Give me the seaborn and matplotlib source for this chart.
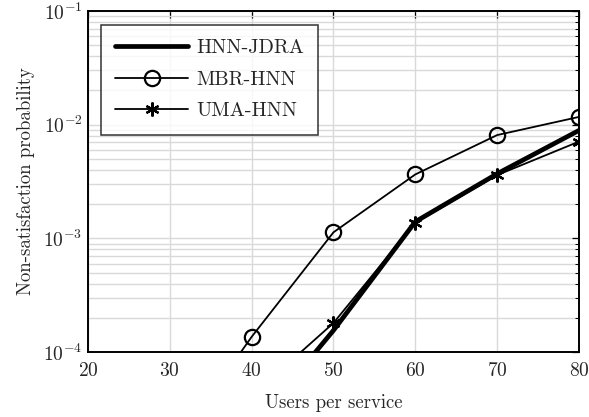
import numpy as np
import pandas as pd
import matplotlib
matplotlib.use("Agg")
import matplotlib.pyplot as plt
import seaborn as sns

users = [20, 30, 40, 50, 60, 70, 80]
hnn_jdra = [4.0e-7, 3.0e-6, 2.1e-5, 1.55e-4, 1.40e-3, 3.70e-3, 8.9e-3]
mbr_hnn = [5.0e-7, 1.3e-5, 1.36e-4, 1.13e-3, 3.65e-3, 8.1e-3, 1.17e-2]
uma_hnn = [6.0e-7, 5.0e-6, 4.1e-5, 1.80e-4, 1.37e-3, 3.60e-3, 7.1e-3]

series = {"HNN-JDRA": hnn_jdra, "MBR-HNN": mbr_hnn, "UMA-HNN": uma_hnn}
df = pd.concat(
    [pd.DataFrame({"users": users, "p": v, "scheme": k}) for k, v in series.items()],
    ignore_index=True,
)

sns.set_theme(style="white")
plt.rcParams["font.family"] = ["cmr10", "DejaVu Serif"]
plt.rcParams["mathtext.fontset"] = "cm"
plt.rcParams["axes.formatter.use_mathtext"] = True

fig = plt.figure(figsize=(5.89, 4.17), dpi=100)
ax = fig.add_axes([0.1494, 0.1559, 0.8336, 0.8177])

styles = {
    "HNN-JDRA": dict(lw=3.4, marker=None, ms=0),
    "MBR-HNN": dict(lw=1.3, marker="o", ms=11),
    "UMA-HNN": dict(lw=1.3, marker=(6, 2, 0), ms=10),
}
for name in series:
    st = styles[name]
    sub = df[df["scheme"] == name]
    sns.lineplot(
        data=sub, x="users", y="p", ax=ax, color="black", lw=st["lw"],
        marker=st["marker"], markersize=st["ms"], markerfacecolor="none",
        markeredgecolor="black", markeredgewidth=1.6, label=name,
        clip_on=True, zorder=3,
    )

ax.set_yscale("log")
ax.set_xlim(20, 80)
ax.set_ylim(1e-4, 1e-1)
ax.set_xticks([20, 30, 40, 50, 60, 70, 80])
ax.set_yticks([1e-4, 1e-3, 1e-2, 1e-1])
ax.set_yticklabels([r"$10^{-4}$", r"$10^{-3}$", r"$10^{-2}$", r"$10^{-1}$"])

ax.grid(True, which="major", color="#d9d9d9", lw=1.0)
ax.grid(True, which="minor", axis="y", color="#d9d9d9", lw=1.0)
ax.set_axisbelow(True)

ax.tick_params(which="both", direction="in", top=True, right=True,
               labelsize=14, color="black")
ax.tick_params(axis="x", pad=7)
ax.tick_params(axis="y", pad=4)
ax.tick_params(which="major", length=5, width=0.9)
ax.tick_params(which="minor", length=3, width=0.7)
for s in ax.spines.values():
    s.set_color("black")
    s.set_linewidth(1.4)

ax.set_xlabel("Users per service", fontsize=13.5, labelpad=10)
ax.set_ylabel("Non-satisfaction probability", fontsize=13.5, labelpad=6)

leg = ax.legend(loc="upper left", bbox_to_anchor=(0.027, 0.96), fontsize=14.5,
                frameon=True, fancybox=False, edgecolor="black",
                handlelength=3.6, borderpad=0.7, labelspacing=0.68,
                handletextpad=0.4, borderaxespad=0)
leg.get_frame().set_linewidth(1.1)

fig.savefig("out.png", dpi=100)
